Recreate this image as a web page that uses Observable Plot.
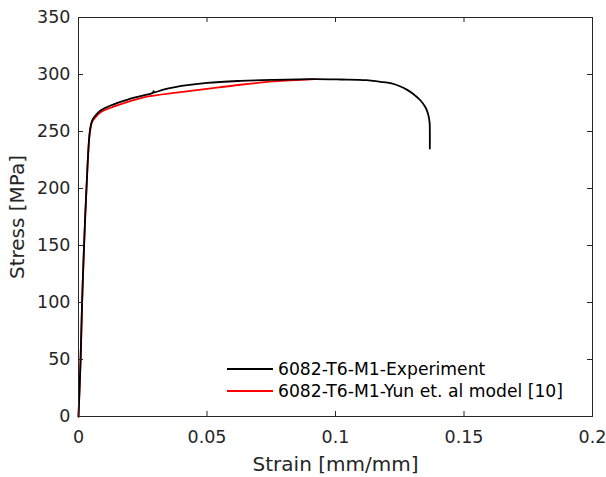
<!DOCTYPE html>
<html>
<head>
<meta charset="utf-8">
<script src="https://cdn.jsdelivr.net/npm/d3@7"></script>
<script src="https://cdn.jsdelivr.net/npm/@observablehq/plot@0.6"></script>
<style>
  html, body { margin: 0; padding: 0; background: #fff; }
  #wrap { position: relative; width: 606px; height: 477px; font-family: "DejaVu Sans", Verdana, sans-serif; }
  .leg { position: absolute; left: 227px; top: 358px; font-size: 17.2px; color: #000; line-height: 22px; }
  .leg div { display: flex; align-items: center; white-space: nowrap; height: 22px; }
  .leg span.sw { display: inline-block; width: 46px; height: 2px; margin-right: 5px; }
</style>
</head>
<body>
<div id="wrap"></div>
<script>
const expStrain = [0, 0.0008, 0.0014, 0.0021, 0.0031, 0.0044, 0.0053, 0.0066, 0.0086, 0.0125, 0.0189, 0.0250, 0.0290, 0.0292, 0.0294, 0.0330, 0.0371, 0.050, 0.063, 0.076, 0.0916, 0.102, 0.112, 0.1175, 0.1214, 0.1253, 0.1279, 0.1305, 0.1331, 0.1350, 0.1360, 0.1366, 0.1367, 0.1367];
const expStress = [0, 49, 100, 146, 200, 249.7, 259.6, 264, 268.4, 272.8, 277.8, 281.5, 284, 285.4, 284.3, 286.8, 288.8, 292.6, 294.4, 295.3, 295.9, 295.6, 295.0, 293.6, 292.4, 289.5, 286.5, 282.5, 277.2, 271.3, 265.5, 258.2, 251, 235];
const modStrain = [0, 0.0008, 0.0014, 0.0021, 0.0031, 0.0044, 0.0053, 0.0066, 0.0086, 0.0125, 0.0189, 0.0254, 0.0397, 0.050, 0.063, 0.076, 0.0916];
const modStress = [0, 49, 100, 146, 200, 249, 258.5, 262.5, 266.8, 270.8, 275.7, 280, 284.5, 287.4, 291, 293.9, 295.9];
const xTicks = [0, 0.05, 0.1, 0.15, 0.2];
const yTicks = [0, 50, 100, 150, 200, 250, 300, 350];
const seriesNames = ["6082-T6-M1-Experiment", "6082-T6-M1-Yun et. al model [10]"];
const seriesColors = ["#000000", "#ff0000"];

const expData = expStrain.map((x, i) => ({x, y: expStress[i]}));
const modData = modStrain.map((x, i) => ({x, y: modStress[i]}));

const W = 606, H = 477, mL = 78, mR = 14, mT = 17, mB = 61;
const innerH = H - mT - mB, innerW = W - mL - mR, tk = 5;
const axisColor = "#262626";
const fmt = d => String(d);

const chart = Plot.plot({
  width: W, height: H,
  marginLeft: mL, marginRight: mR, marginTop: mT, marginBottom: mB,
  style: {fontFamily: "'DejaVu Sans', Verdana, sans-serif", fontSize: "17px", color: axisColor, background: "#fff", overflow: "visible"},
  x: {domain: [0, 0.2], ticks: xTicks, tickFormat: fmt},
  y: {domain: [0, 350], ticks: yTicks, tickFormat: fmt},
  marks: [
    Plot.line(modData, {x: "x", y: "y", stroke: seriesColors[1], strokeWidth: 1.8, curve: "catmull-rom"}),
    Plot.line(expData, {x: "x", y: "y", stroke: seriesColors[0], strokeWidth: 1.8, curve: "catmull-rom"}),
    Plot.ruleX(xTicks.slice(1, -1), {x: d => d, insetTop: innerH - tk, stroke: axisColor, strokeWidth: 1}),
    Plot.ruleX(xTicks.slice(1, -1), {x: d => d, insetBottom: innerH - tk, stroke: axisColor, strokeWidth: 1}),
    Plot.ruleY(yTicks.slice(1, -1), {y: d => d, insetRight: innerW - tk, stroke: axisColor, strokeWidth: 1}),
    Plot.ruleY(yTicks.slice(1, -1), {y: d => d, insetLeft: innerW - tk, stroke: axisColor, strokeWidth: 1}),
    Plot.frame({stroke: axisColor, strokeWidth: 1}),
    Plot.axisX(xTicks, {tickSize: 0, tickPadding: 14, fontSize: 17.5, fill: axisColor, tickFormat: fmt, label: null}),
    Plot.axisY(yTicks, {tickSize: 0, tickPadding: 8, fontSize: 17.5, fill: axisColor, tickFormat: fmt, label: null}),
    Plot.axisX({ticks: [], label: "Strain [mm/mm]", labelAnchor: "center", labelArrow: "none", labelOffset: 54, fontSize: 20, fill: axisColor, tickSize: 0}),
    Plot.axisY({ticks: [], label: "Stress [MPa]", labelAnchor: "center", labelArrow: "none", labelOffset: 69, fontSize: 20, fill: axisColor, tickSize: 0})
  ]
});
chart.style.display = "block";
document.getElementById("wrap").appendChild(chart);

const leg = document.createElement("div");
leg.className = "leg";
seriesNames.forEach((n, i) => {
  const row = document.createElement("div");
  const sw = document.createElement("span");
  sw.className = "sw";
  sw.style.backgroundColor = seriesColors[i];
  row.appendChild(sw);
  row.appendChild(document.createTextNode(n));
  leg.appendChild(row);
});
document.getElementById("wrap").appendChild(leg);
</script>
</body>
</html>
